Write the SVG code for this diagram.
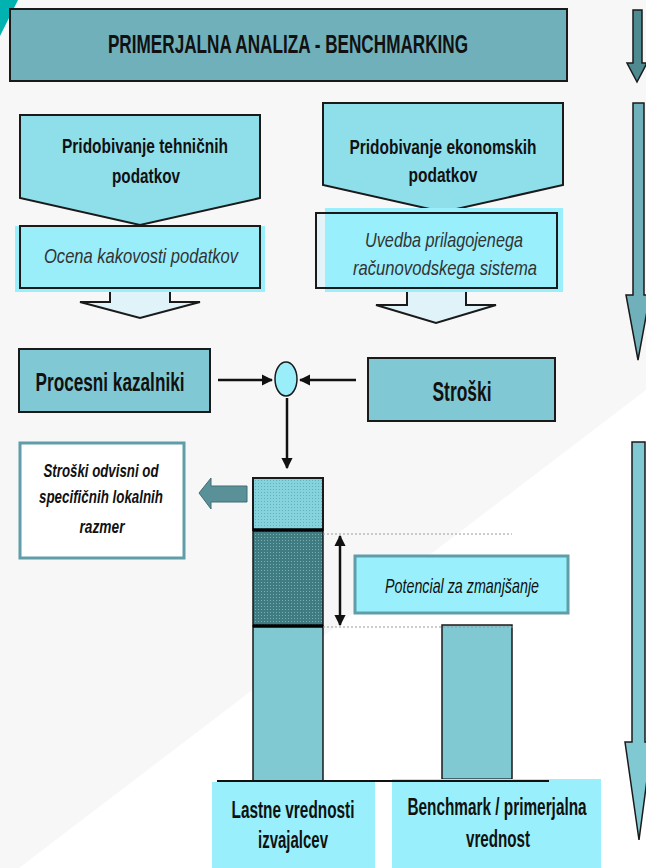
<svg xmlns="http://www.w3.org/2000/svg" width="646" height="868" viewBox="0 0 646 868">
  <style>
    .b { font-family: "Liberation Sans", Arial, sans-serif; font-weight: bold; fill: #111; }
    .i { font-family: "Liberation Sans", Arial, sans-serif; font-style: italic; fill: #333; }
    .bi { font-family: "Liberation Sans", Arial, sans-serif; font-style: italic; font-weight: bold; fill: #111; }
    .edge { stroke: #111; stroke-width: 2.5; fill: none; }
    .blk { stroke: #1a1a1a; stroke-width: 2; }
  </style>
  <defs>
    <marker id="ah" viewBox="0 0 10 10" refX="9" refY="5" markerWidth="4.5" markerHeight="4.5" orient="auto-start-reverse" markerUnits="strokeWidth">
      <path d="M0,0 L10,5 L0,10 Z" fill="#111"/>
    </marker>
    <pattern id="dotLight" width="3" height="3" patternUnits="userSpaceOnUse">
      <rect width="3" height="3" fill="#86d2dd"/>
      <rect width="1" height="1" fill="#5fb3bf"/>
    </pattern>
    <pattern id="dotDark" width="3" height="3" patternUnits="userSpaceOnUse">
      <rect width="3" height="3" fill="#3f7c82"/>
      <rect width="1" height="1" fill="#7aaeb3"/>
    </pattern>
  </defs>

  <!-- background -->
  <rect x="0" y="0" width="646" height="868" fill="#ffffff"/>
  <polygon points="0,0 646,0 646,390 19,868 0,868" fill="#f7f7f7"/>
  <polygon points="0,0 18,0 0,36" fill="#00b2b0"/>

  <!-- right-side progress arrows -->
  <g id="progress-arrows" stroke="#1a1a1a" stroke-width="1.5">
    <polygon points="633,10 642,10 642,63 647,63 637,82 627,63 633,63" fill="#4f8a90"/>
    <polygon points="633,103 644,103 644,295 650,295 638,360 626,295 633,295" fill="#6fb0bb"/>
    <polygon points="632,442 645,442 645,742 652,742 639,840 625,742 632,742" fill="#80c8d2"/>
  </g>

  <!-- title -->
  <g id="title">
    <rect x="10" y="9" width="557" height="72" fill="#70b0bb" class="blk"/>
    <text class="b" transform="translate(288,53) scale(0.66,1)" x="0" y="0" font-size="26" text-anchor="middle">PRIMERJALNA ANALIZA - BENCHMARKING</text>
  </g>

  <!-- left column -->
  <g id="tech-arrow">
    <polygon points="110,286 170,286 170,302 200,302 140,318 80,302 110,302" fill="#e0f3f8" class="blk" stroke-width="1.5"/>
  </g>
  <g id="tech-data">
    <path d="M20,115 H260 V198 L140,225 L20,198 Z" fill="#8fdfeb" class="blk"/>
    <text class="b" x="145" y="153" font-size="21" text-anchor="middle" textLength="166" lengthAdjust="spacingAndGlyphs">Pridobivanje tehničnih</text>
    <text class="b" x="146" y="183" font-size="21" text-anchor="middle" textLength="68" lengthAdjust="spacingAndGlyphs">podatkov</text>
  </g>
  <g id="tech-quality">
    <rect x="15" y="226" width="250" height="66" fill="#99effc"/>
    <rect x="20" y="226" width="240" height="62" fill="#99eefa" class="blk"/>
    <text class="i" x="141" y="263" font-size="21" text-anchor="middle" textLength="194" lengthAdjust="spacingAndGlyphs">Ocena kakovosti podatkov</text>
  </g>

  <!-- right column -->
  <g id="econ-arrow">
    <polygon points="407,286 466,286 466,305 496,305 436,323 376,305 407,305" fill="#e0f3f8" class="blk" stroke-width="1.5"/>
  </g>
  <g id="econ-data">
    <path d="M323,103 H563 V185 L443,212 L323,185 Z" fill="#8fdfeb" class="blk"/>
    <text class="b" x="443" y="154" font-size="21" text-anchor="middle" textLength="187" lengthAdjust="spacingAndGlyphs">Pridobivanje ekonomskih</text>
    <text class="b" x="443" y="182" font-size="21" text-anchor="middle" textLength="69" lengthAdjust="spacingAndGlyphs">podatkov</text>
  </g>
  <g id="econ-accounting">
    <rect x="316" y="213" width="241" height="75" fill="#e4f3f7"/>
    <rect x="325" y="208" width="238" height="84" fill="#99effc"/>
    <rect x="316" y="213" width="241" height="75" fill="none" class="blk"/>
    <text class="i" x="444" y="247" font-size="21" text-anchor="middle" textLength="158" lengthAdjust="spacingAndGlyphs">Uvedba prilagojenega</text>
    <text class="i" x="445" y="275" font-size="21" text-anchor="middle" textLength="184" lengthAdjust="spacingAndGlyphs">računovodskega sistema</text>
  </g>

  <!-- middle row -->
  <g id="process-indicators">
    <rect x="19" y="349" width="191" height="63" fill="#80c8d3" class="blk"/>
    <text class="b" x="110" y="391" font-size="25" text-anchor="middle" textLength="149" lengthAdjust="spacingAndGlyphs">Procesni kazalniki</text>
  </g>
  <g id="junction">
    <ellipse cx="286" cy="379" rx="11" ry="17" fill="#99eefa" stroke="#1a1a1a" stroke-width="1.5"/>
  </g>
  <g id="costs">
    <rect x="368" y="358" width="187" height="63" fill="#80c8d3" class="blk"/>
    <text class="b" x="462" y="401" font-size="27" text-anchor="middle" textLength="59" lengthAdjust="spacingAndGlyphs">Stroški</text>
  </g>

  <!-- local conditions box -->
  <g id="local-costs">
    <rect x="20" y="443" width="164" height="115" fill="#ffffff" stroke="#5f9ea8" stroke-width="3"/>
    <text class="bi" x="101" y="477" font-size="19" text-anchor="middle" textLength="115" lengthAdjust="spacingAndGlyphs">Stroški odvisni od</text>
    <text class="bi" x="101" y="503" font-size="19" text-anchor="middle" textLength="124" lengthAdjust="spacingAndGlyphs">specifičnih lokalnih</text>
    <text class="bi" x="102" y="533" font-size="19" text-anchor="middle" textLength="45" lengthAdjust="spacingAndGlyphs">razmer</text>
  </g>
  <g id="local-arrow">
    <polygon points="247,486 211,486 211,478 199,493 211,509 211,502 247,502" fill="#5a9098" stroke="#3e6e74" stroke-width="1"/>
  </g>

  <!-- bars -->
  <g id="own-bar">
    <rect x="253" y="478" width="70" height="52" fill="url(#dotLight)" stroke="#1a1a1a" stroke-width="2"/>
    <rect x="253" y="530" width="70" height="96" fill="url(#dotDark)" stroke="#1a1a1a" stroke-width="1.5"/>
    <rect x="253" y="626" width="70" height="155" fill="#80c8d2" stroke="#1a1a1a" stroke-width="1.5"/>
    <line x1="253" y1="530" x2="323" y2="530" stroke="#000" stroke-width="3.5"/>
    <line x1="253" y1="626" x2="323" y2="626" stroke="#000" stroke-width="3.5"/>
  </g>
  <g id="benchmark-bar">
    <rect x="442" y="625" width="70" height="156" fill="#80c8d2" stroke="#1a1a1a" stroke-width="1.5"/>
    <line x1="442" y1="780" x2="512" y2="780" stroke="#000" stroke-width="3"/>
  </g>
  <g id="guides" stroke="#999" stroke-width="1" stroke-dasharray="2,2">
    <line x1="323" y1="534" x2="512" y2="534"/>
    <line x1="323" y1="627" x2="513" y2="627"/>
  </g>

  <g id="potential">
    <rect x="355" y="556" width="213" height="57" fill="#99f0fc" stroke="#5f9ea8" stroke-width="3"/>
    <text class="i" x="462" y="593" font-size="21" text-anchor="middle" style="fill:#111" textLength="154" lengthAdjust="spacingAndGlyphs">Potencial za zmanjšanje</text>
  </g>

  <!-- labels -->
  <g id="own-label">
    <rect x="212" y="782" width="163" height="86" fill="#99f0fc"/>
    <text class="b" x="293" y="818" font-size="23" text-anchor="middle" textLength="123" lengthAdjust="spacingAndGlyphs">Lastne vrednosti</text>
    <text class="b" x="293" y="848" font-size="23" text-anchor="middle" textLength="70" lengthAdjust="spacingAndGlyphs">izvajalcev</text>
  </g>
  <g id="benchmark-label">
    <rect x="392" y="779" width="209" height="89" fill="#99f0fc"/>
    <text class="b" transform="translate(497,815) scale(0.668,1)" x="0" y="0" font-size="23" text-anchor="middle">Benchmark / primerjalna</text>
    <text class="b" transform="translate(498,847) scale(0.66,1)" x="0" y="0" font-size="23" text-anchor="middle">vrednost</text>
  </g>

  <!-- connectors -->
  <g id="connectors">
    <line class="edge" x1="218" y1="380" x2="272" y2="380" marker-end="url(#ah)"/>
    <line class="edge" x1="356" y1="380" x2="300" y2="380" marker-end="url(#ah)"/>
    <line class="edge" x1="287" y1="398" x2="287" y2="468" stroke-width="1.8" marker-end="url(#ah)"/>
    <line class="edge" x1="340" y1="536" x2="340" y2="625" stroke-width="1.8" marker-start="url(#ah)" marker-end="url(#ah)"/>
    <line x1="217" y1="781" x2="549" y2="781" stroke="#111" stroke-width="2"/>
  </g>
</svg>
